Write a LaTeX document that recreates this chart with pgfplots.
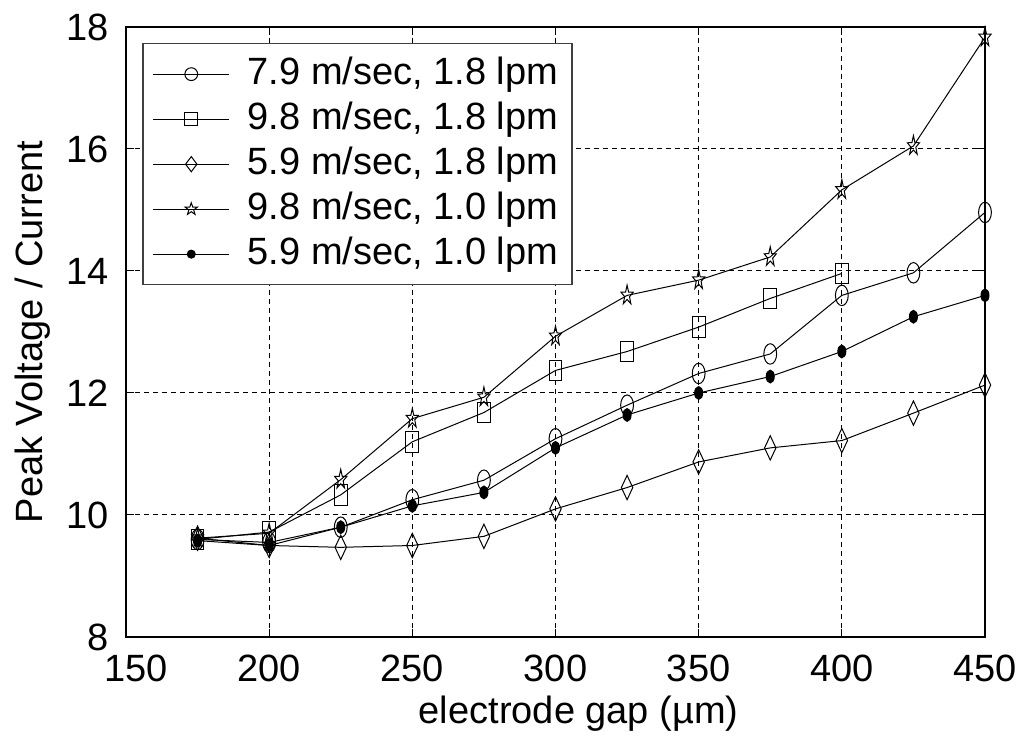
\documentclass[border=0pt]{standalone}
\usepackage{fontspec}
\setmainfont{Liberation Sans}
\usepackage{pgfplots}
\pgfplotsset{compat=1.18}
\pgfdeclareplotmark{pentagram}{%
  \pgfpathmoveto{\pgfpointpolar{90}{\pgfplotmarksize}}%
  \pgfpathlineto{\pgfpointpolar{126}{0.4\pgfplotmarksize}}%
  \pgfpathlineto{\pgfpointpolar{162}{\pgfplotmarksize}}%
  \pgfpathlineto{\pgfpointpolar{198}{0.4\pgfplotmarksize}}%
  \pgfpathlineto{\pgfpointpolar{234}{\pgfplotmarksize}}%
  \pgfpathlineto{\pgfpointpolar{270}{0.4\pgfplotmarksize}}%
  \pgfpathlineto{\pgfpointpolar{306}{\pgfplotmarksize}}%
  \pgfpathlineto{\pgfpointpolar{342}{0.4\pgfplotmarksize}}%
  \pgfpathlineto{\pgfpointpolar{18}{\pgfplotmarksize}}%
  \pgfpathlineto{\pgfpointpolar{54}{0.4\pgfplotmarksize}}%
  \pgfpathclose\pgfusepathqstroke}
\begin{document}
\fontsize{19}{23}\selectfont
\begin{tikzpicture}
\useasboundingbox (-63pt,-50.5pt) rectangle (448.5pt,318.5pt);
\begin{axis}[
  at={(0,0)}, anchor=south west,
  scale only axis, width=429.5pt, height=305pt,
  xmin=150, xmax=450, ymin=8, ymax=18,
  xtick={200,250,...,450}, ytick={8,10,...,18},
  extra x ticks={150},
  extra x tick style={xticklabel style={xshift=5pt}},
  tick align=inside, major tick length=4pt,
  tick style={black, line width=0.5pt},
  axis line style={black, line width=0.7pt},
  grid=major,
  major grid style={black, line width=0.5pt, dash pattern=on 2.5pt off 2pt},
  /pgf/number format/assume math mode=true,
  tick label style={font=\fontsize{19}{23}\selectfont},
  xticklabel style={yshift=-2.5pt},
  yticklabel style={xshift=-2pt},
  label style={font=\fontsize{19}{23}\selectfont},
  xlabel={electrode gap (µm)},
  ylabel={Peak Voltage / Current},
  xlabel style={at={(axis description cs:0.527,-0.125)}, anchor=center},
  ylabel style={at={(axis description cs:-0.109,0.5)}, anchor=center},
  legend cell align=left,
  legend image code/.code={\draw[mark repeat=2, mark phase=2, every mark/.append style={yscale=0.625}] plot coordinates {(0pt,0pt) (19pt,0pt) (38pt,0pt)};},
  legend style={at={(axis description cs:0.0186,0.974)}, anchor=north west,
    draw={black!75}, line width=0.8pt, fill=white,
    font=\fontsize{19}{23}\selectfont,
    inner xsep=5pt, inner ysep=4pt, row sep=0pt, column sep=7pt,
    nodes={inner sep=2pt, text height=14.5pt, text depth=4pt}},
]
\addplot[black, line width=0.5pt, mark=o, mark size=3.2pt, mark options={solid, yscale=1.6}] coordinates {(175,9.6)(200,9.55)(225,9.8)(250,10.25)(275,10.57)(300,11.25)(325,11.8)(350,12.32)(375,12.64)(400,13.6)(425,13.97)(450,14.96)};
\addlegendentry{7.9 m/sec, 1.8 lpm}
\addplot[black, line width=0.5pt, mark=square, mark size=3.2pt, mark options={solid, yscale=1.6}] coordinates {(175,9.6)(200,9.72)(225,10.33)(250,11.2)(275,11.68)(300,12.37)(325,12.68)(350,13.08)(375,13.55)(400,13.96)};
\addlegendentry{9.8 m/sec, 1.8 lpm}
\addplot[black, line width=0.5pt, mark=diamond, mark size=3.8pt, mark options={solid, yscale=1.6}] coordinates {(175,9.62)(200,9.5)(225,9.47)(250,9.5)(275,9.65)(300,10.1)(325,10.45)(350,10.87)(375,11.1)(400,11.22)(425,11.67)(450,12.13)};
\addlegendentry{5.9 m/sec, 1.8 lpm}
\addplot[black, line width=0.5pt, mark=pentagram, mark size=3.2pt, mark options={solid, yscale=1.6}] coordinates {(175,9.62)(200,9.7)(225,10.58)(250,11.58)(275,11.93)(300,12.93)(325,13.6)(350,13.85)(375,14.23)(400,15.33)(425,16.05)(450,17.83)};
\addlegendentry{9.8 m/sec, 1.0 lpm}
\addplot[black, line width=0.5pt, mark=*, mark size=2pt, mark options={solid, fill=black, yscale=1.6}] coordinates {(175,9.58)(200,9.5)(225,9.8)(250,10.15)(275,10.37)(300,11.1)(325,11.64)(350,12.0)(375,12.27)(400,12.68)(425,13.25)(450,13.6)};
\addlegendentry{5.9 m/sec, 1.0 lpm}
\end{axis}
\end{tikzpicture}
\end{document}
